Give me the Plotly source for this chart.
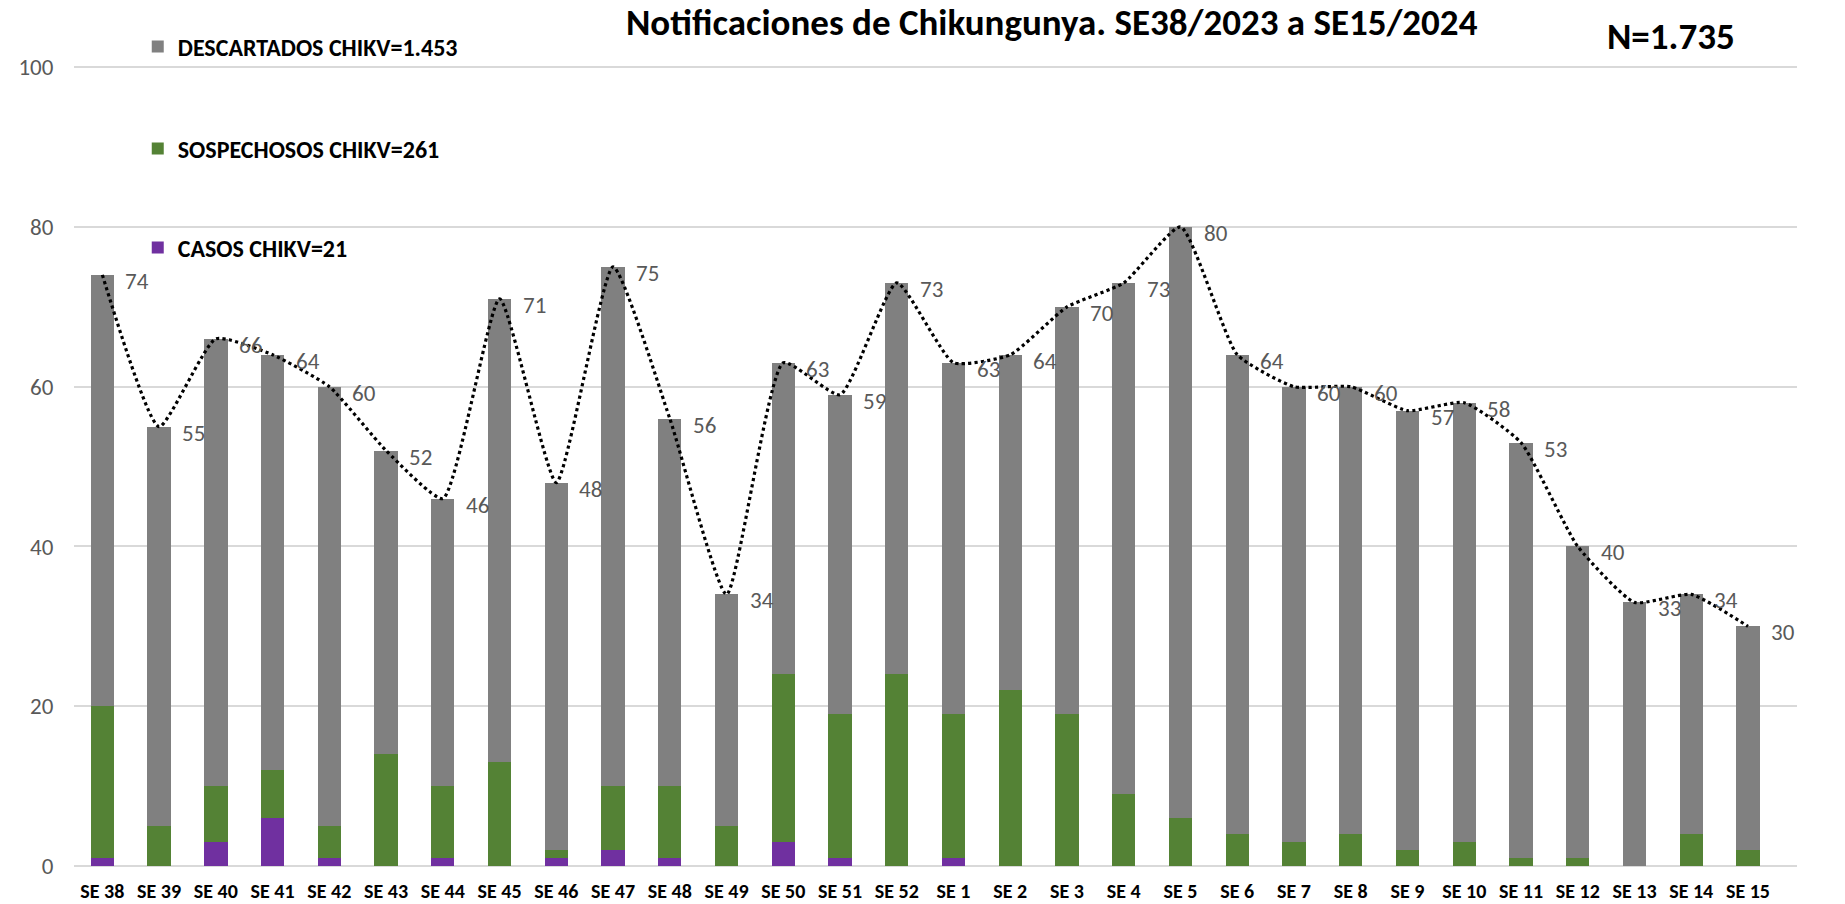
import plotly.graph_objects as go

weeks = ["SE 38", "SE 39", "SE 40", "SE 41", "SE 42", "SE 43", "SE 44", "SE 45", "SE 46", "SE 47",
         "SE 48", "SE 49", "SE 50", "SE 51", "SE 52", "SE 1", "SE 2", "SE 3", "SE 4", "SE 5",
         "SE 6", "SE 7", "SE 8", "SE 9", "SE 10", "SE 11", "SE 12", "SE 13", "SE 14", "SE 15"]
totals = [74, 55, 66, 64, 60, 52, 46, 71, 48, 75, 56, 34, 63, 59, 73,
          63, 64, 70, 73, 80, 64, 60, 60, 57, 58, 53, 40, 33, 34, 30]
casos = [1, 0, 3, 6, 1, 0, 1, 0, 1, 2, 1, 0, 3, 1, 0,
         1, 0, 0, 0, 0, 0, 0, 0, 0, 0, 0, 0, 0, 0, 0]
sospechosos = [19, 5, 7, 6, 4, 14, 9, 13, 1, 8, 9, 5, 21, 18, 24,
               18, 22, 19, 9, 6, 4, 3, 4, 2, 3, 1, 1, 0, 4, 2]
descartados = [t - c - s for t, c, s in zip(totals, casos, sospechosos)]

legend_names = ["CASOS CHIKV=21", "SOSPECHOSOS CHIKV=261", "DESCARTADOS CHIKV=1.453"]
title_text = "Notificaciones de Chikungunya. SE38/2023 a SE15/2024"
n_text = "N=1.735"

FONT = "Carlito, Liberation Sans, Arial, sans-serif"

fig = go.Figure()
fig.add_trace(go.Bar(x=weeks, y=casos, name=legend_names[0], legend="legend3",
                     marker=dict(color="#7030A0", line_width=0), hoverinfo="y"))
fig.add_trace(go.Bar(x=weeks, y=sospechosos, name=legend_names[1], legend="legend2",
                     marker=dict(color="#548235", line_width=0), hoverinfo="y"))
fig.add_trace(go.Bar(x=weeks, y=descartados, name=legend_names[2], legend="legend",
                     marker=dict(color="#808080", line_width=0), hoverinfo="y"))
fig.add_trace(go.Scatter(x=weeks, y=totals, mode="lines", showlegend=False,
                         line=dict(color="black", width=3.2, dash="dot", shape="spline", smoothing=0.5)))

for w, t in zip(weeks, totals):
    fig.add_annotation(x=w, y=t, text=str(t), showarrow=False, xanchor="left", yanchor="middle",
                       xshift=21, yshift=-6, font=dict(family=FONT, size=23, color="#595959"))

fig.add_annotation(x=0.5676, y=1.0, xref="paper", yref="paper", xanchor="center", yanchor="middle",
                   yshift=42, text="<b>" + title_text + "</b>", showarrow=False,
                   font=dict(family=FONT, size=37, color="black"))
fig.add_annotation(x=0.927, y=1.0, xref="paper", yref="paper", xanchor="center", yanchor="middle",
                   yshift=28, text="<b>" + n_text + "</b>", showarrow=False,
                   font=dict(family=FONT, size=37, color="black"))

leg_common = dict(x=0.037, xanchor="left", yanchor="middle", bgcolor="rgba(0,0,0,0)",
                  font=dict(family=FONT, size=24, color="black", weight="bold"), itemwidth=30)

fig.update_layout(
    width=1845, height=904,
    margin=dict(l=74, r=48, t=64, b=38, autoexpand=False),
    barmode="stack", bargap=0.59,
    plot_bgcolor="white", paper_bgcolor="white",
    legend=dict(y=1.0212, **leg_common),
    legend2=dict(y=0.894, **leg_common),
    legend3=dict(y=0.7706, **leg_common),
    xaxis=dict(tickfont=dict(family=FONT, size=20, color="black", weight="bold"),
               showgrid=False, showline=False, ticks="outside", ticklen=7,
               tickcolor="rgba(0,0,0,0)", automargin=False),
    yaxis=dict(range=[0, 100.4], tickvals=[0, 20, 40, 60, 80, 100], showgrid=True,
               gridcolor="#D9D9D9", gridwidth=2,
               zeroline=True, zerolinecolor="#D9D9D9", zerolinewidth=2,
               tickfont=dict(family=FONT, size=23, color="#595959"),
               ticks="outside", ticklen=15, tickcolor="rgba(0,0,0,0)", automargin=False),
)
fig.write_html("out.html", config={"displayModeBar": False},
               post_script="document.body.style.margin='0';")
